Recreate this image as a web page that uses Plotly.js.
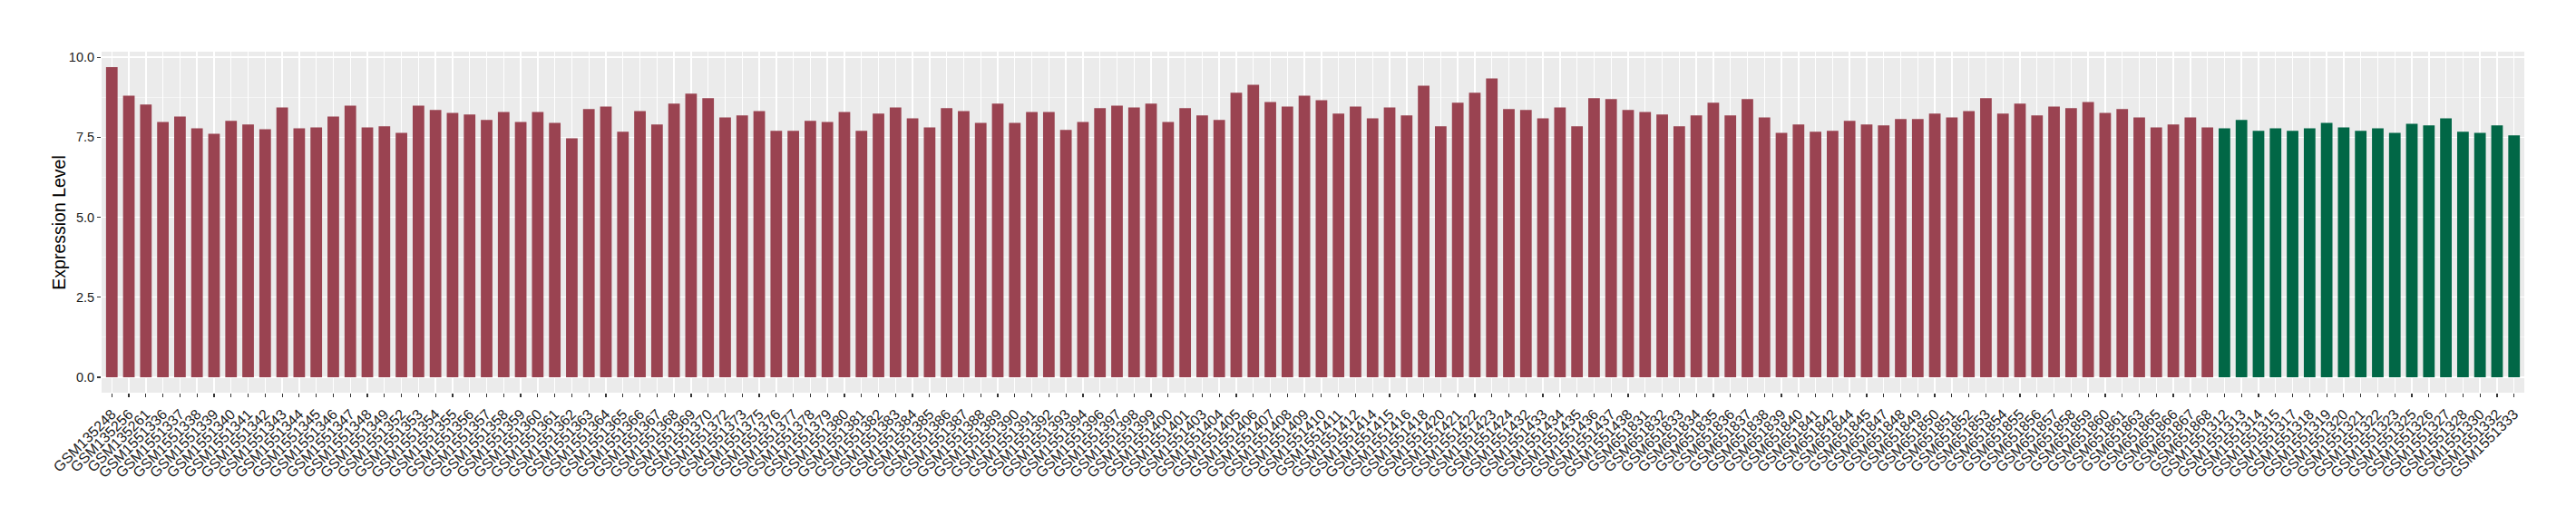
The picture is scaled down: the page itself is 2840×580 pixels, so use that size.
<!DOCTYPE html>
<html>
<head>
<meta charset="utf-8">
<script src="https://cdn.plot.ly/plotly-3.0.1.min.js"></script>
<style>html,body{margin:0;padding:0;background:#fff;}#chart{width:2840px;height:580px;}</style>
</head>
<body>
<div id="chart"></div>
<script>
var samplesA = ["GSM135248","GSM135256","GSM135261",
"GSM1551336","GSM1551337","GSM1551338","GSM1551339","GSM1551340","GSM1551341","GSM1551342","GSM1551343","GSM1551344","GSM1551345","GSM1551346","GSM1551347","GSM1551348","GSM1551349",
"GSM1551352","GSM1551353","GSM1551354","GSM1551355","GSM1551356","GSM1551357","GSM1551358","GSM1551359","GSM1551360","GSM1551361","GSM1551362","GSM1551363","GSM1551364","GSM1551365","GSM1551366","GSM1551367","GSM1551368","GSM1551369","GSM1551370",
"GSM1551372","GSM1551373",
"GSM1551375","GSM1551376","GSM1551377","GSM1551378","GSM1551379","GSM1551380","GSM1551381","GSM1551382","GSM1551383","GSM1551384","GSM1551385","GSM1551386","GSM1551387","GSM1551388","GSM1551389","GSM1551390","GSM1551391","GSM1551392","GSM1551393","GSM1551394",
"GSM1551396","GSM1551397","GSM1551398","GSM1551399","GSM1551400","GSM1551401",
"GSM1551403","GSM1551404","GSM1551405","GSM1551406","GSM1551407","GSM1551408","GSM1551409","GSM1551410","GSM1551411","GSM1551412",
"GSM1551414","GSM1551415","GSM1551416","GSM1551418",
"GSM1551420","GSM1551421","GSM1551422","GSM1551423","GSM1551424",
"GSM1551432","GSM1551433","GSM1551434","GSM1551435","GSM1551436","GSM1551437","GSM1551438",
"GSM651831","GSM651832","GSM651833","GSM651834","GSM651835","GSM651836","GSM651837","GSM651838","GSM651839","GSM651840","GSM651841","GSM651842",
"GSM651844","GSM651845",
"GSM651847","GSM651848","GSM651849","GSM651850","GSM651851","GSM651852","GSM651853","GSM651854","GSM651855","GSM651856","GSM651857","GSM651858","GSM651859","GSM651860","GSM651861",
"GSM651863","GSM651865","GSM651866","GSM651867","GSM651868"];

var valuesA = [9.69, 8.80, 8.52, 7.98, 8.15, 7.78, 7.61, 8.01, 7.90, 7.75,
8.43, 7.78, 7.81, 8.15, 8.49, 7.81, 7.84, 7.64, 8.49, 8.35,
8.26, 8.21, 8.04, 8.29, 7.98, 8.29, 7.95, 7.47, 8.38, 8.46,
7.67, 8.32, 7.90, 8.55, 8.86, 8.72, 8.12, 8.18, 8.32, 7.70,
7.70, 8.01, 7.98, 8.29, 7.70, 8.24, 8.43, 8.09, 7.81, 8.41,
8.32, 7.95, 8.55, 7.95, 8.29, 8.29, 7.73, 7.98, 8.41, 8.49,
8.43, 8.55, 7.98, 8.41, 8.18, 8.04, 8.89, 9.14, 8.60, 8.46,
8.80, 8.66, 8.24, 8.46, 8.09, 8.43, 8.18, 9.11, 7.84, 8.58,
8.89, 9.34, 8.38, 8.35, 8.09, 8.43, 7.84, 8.72, 8.69, 8.35,
8.29, 8.21, 7.84, 8.18, 8.58, 8.18, 8.69, 8.12, 7.64, 7.90,
7.67, 7.70, 8.01, 7.90, 7.87, 8.07, 8.07, 8.24, 8.12, 8.32,
8.72, 8.24, 8.55, 8.18, 8.46, 8.41, 8.60, 8.26, 8.38, 8.12,
7.81, 7.90, 8.12, 7.81];

var samplesB = ["GSM1551312","GSM1551313","GSM1551314","GSM1551315","GSM1551317","GSM1551318","GSM1551319","GSM1551320","GSM1551321","GSM1551322","GSM1551323","GSM1551325","GSM1551326","GSM1551327","GSM1551328","GSM1551330","GSM1551332","GSM1551333"];

var valuesB = [7.78, 8.04, 7.70, 7.78, 7.70, 7.78, 7.95, 7.81, 7.70, 7.78, 7.64, 7.92, 7.87, 8.09, 7.67, 7.64, 7.87, 7.56];

var yTicks = [0, 2.5, 5, 7.5, 10];
var yTickText = ["0.0", "2.5", "5.0", "7.5", "10.0"];
var yTitle = "Expression Level";

var colorA = "#9A4351";
var colorB = "#016746";

var allSamples = samplesA.concat(samplesB);
var allValues = valuesA.concat(valuesB);
var ymax = Math.max.apply(null, allValues);
var pad = 0.05 * ymax;
var n = allSamples.length;

var W = 2840, H = 580;
var mL = 112, mR = 57, mT = 57, mB = 147;
var plotW = W - mL - mR;

var traces = [
  {type: "bar", x: samplesA, y: valuesA, marker: {color: colorA, line: {width: 0}}, showlegend: false, hoverinfo: "x+y"},
  {type: "bar", x: samplesB, y: valuesB, marker: {color: colorB, line: {width: 0}}, showlegend: false, hoverinfo: "x+y"}
];

var layout = {
  width: W, height: H,
  margin: {l: mL, r: mR, t: mT, b: mB, pad: 0},
  paper_bgcolor: "#FFFFFF",
  plot_bgcolor: "#EBEBEB",
  barmode: "overlay",
  bargap: 0.32,
  font: {family: "Liberation Sans, Arial, sans-serif", color: "#1a1a1a"},
  xaxis: {
    type: "category",
    categoryorder: "array",
    categoryarray: allSamples,
    range: [-0.6, n - 1 + 0.6],
    tickmode: "linear", tick0: 0, dtick: 1,
    showgrid: true, gridcolor: "#FFFFFF", gridwidth: 1.4,
    zeroline: false, showline: false,
    ticks: "outside", ticklen: 4, tickwidth: 1.2, tickcolor: "#333333",
    tickangle: -45,
    ticklabelstandoff: 3,
    tickfont: {size: 16, color: "#1a1a1a"},
    automargin: false
  },
  yaxis: {
    range: [-pad, ymax + pad],
    tickvals: yTicks, ticktext: yTickText,
    showgrid: true, gridcolor: "#FFFFFF", gridwidth: 1.4,
    minor: {dtick: 1.25, tick0: 0, showgrid: true, gridcolor: "#F7F7F7", gridwidth: 0.8, ticks: ""},
    zeroline: false, showline: false,
    ticks: "outside", ticklen: 4, tickwidth: 1.2, tickcolor: "#333333",
    tickfont: {size: 14.5, color: "#1a1a1a"},
    automargin: false
  },
  annotations: [{
    text: yTitle, textangle: -90,
    xref: "paper", yref: "paper",
    x: (64.7 - mL) / plotW, y: 0.5,
    xanchor: "center", yanchor: "middle",
    showarrow: false,
    font: {size: 19.5, color: "#000000"}
  }]
};

Plotly.newPlot("chart", traces, layout, {displayModeBar: false, staticPlot: true});
</script>
</body>
</html>
